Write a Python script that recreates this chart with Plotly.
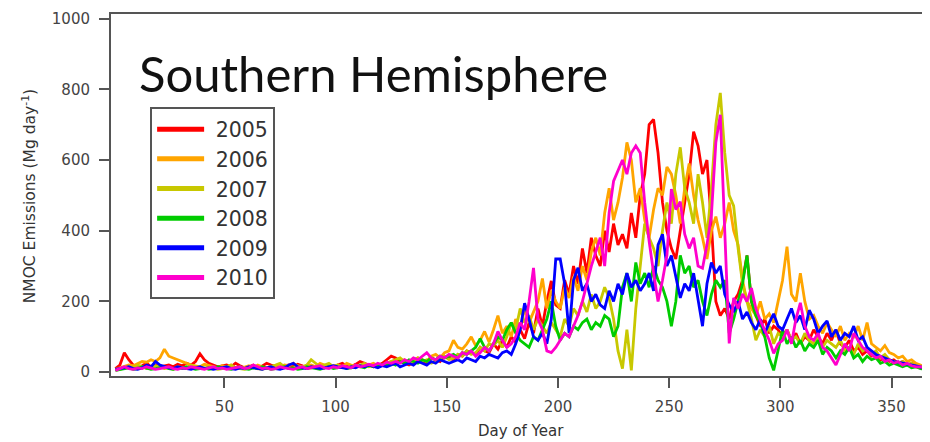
import plotly.graph_objects as go

DAYS = list(range(1, 366, 2))

YEARS = ["2005", "2006", "2007", "2008", "2009", "2010"]

Y2005 = [10,20,55,35,20,15,18,25,15,20, 15,18,20,15,22,18,25,20,30,52,
         35,25,20,15,18,20,15,25,18,12, 15,20,10,18,25,20,15,12,18,20,
         15,22,18,10,12,15,20,12,18,15,
         20,25,18,15,22,30,25,20,15,18,25,35,45,40,30,25,20,28,35,30,25,40,35,30,45,
         40,35,50,45,60,55,50,70,60,55,80,65,90,70,100,85,120,95,140,110,180,130,200,258,190,
         180,260,220,300,250,350,280,380,330,300,400,340,420,360,390,350,450,380,500,560,700,715,620,480,400,
         350,320,400,480,560,680,640,560,600,420,200,160,180,150,200,220,260,330,200,160,130,150,110,130,120,
         100,120,90,110,80,100,90,120,100,80,110,90,120,80,70,90,60,70,50,60,45,50,35,40,30,35,25,30,20,25,18,15,12]

Y2006 = [8,12,15,20,18,25,30,28,35,30, 40,65,45,40,35,30,25,20,18,15,
         22,18,15,12,18,15,20,12,10,15, 18,12,20,15,10,12,18,15,20,18,
         25,15,12,18,20,15,25,20,15,18,
         20,15,25,20,18,15,22,20,25,18,20,25,30,22,28,35,25,30,40,35,30,45,50,40,55,
         60,90,70,65,80,100,75,90,115,85,120,160,110,130,100,150,120,180,140,170,200,265,180,230,200,
         180,240,210,270,230,300,260,340,380,330,450,520,430,480,550,650,600,480,520,430,380,460,520,500,580,
         560,500,420,520,590,500,430,380,320,400,440,380,420,480,400,360,260,200,180,160,200,150,165,140,200,
         260,355,220,200,280,200,150,160,130,110,140,120,100,130,90,110,100,130,90,140,80,70,60,75,55,50,40,45,30,35,25,20,15]

Y2007 = [5,8,10,15,12,20,15,10,12,18, 15,10,12,8,15,12,10,20,15,12,
         10,15,12,8,10,15,20,12,10,8, 12,15,10,8,12,15,20,25,15,10,
         12,18,15,20,35,25,15,20,25,15,
         20,15,12,18,15,20,25,15,18,22,20,25,30,35,40,30,25,35,40,30,35,25,30,40,45,
         35,40,50,45,60,50,55,70,60,80,75,90,70,100,140,120,180,140,160,120,150,130,110,140,120,
         100,150,130,180,160,200,170,220,180,200,240,210,150,60,10,120,5,180,300,420,380,350,300,400,480,
         420,560,636,520,480,420,560,480,380,520,700,790,620,500,470,350,250,200,150,90,120,100,130,80,110,
         100,120,90,100,80,110,90,80,100,70,90,80,70,90,60,70,50,80,60,70,50,60,40,50,35,30,25,30,20,25,15,12,10]

Y2008 = [5,8,10,12,8,10,15,12,8,10, 12,15,10,8,12,10,15,12,8,10,
         12,8,10,15,12,10,8,12,15,10, 8,12,10,15,12,8,10,12,15,10,
         12,8,10,15,12,10,8,12,15,10,
         12,15,10,12,18,15,12,20,15,18,22,18,25,20,30,25,35,30,25,35,30,40,35,45,40,
         45,50,40,55,50,60,70,95,70,60,80,100,90,120,140,110,90,80,70,100,90,120,150,200,130,
         90,110,100,130,120,140,150,120,140,130,160,150,100,130,240,280,200,310,250,280,240,300,260,240,200,
         130,200,330,280,300,240,260,200,160,220,260,240,260,110,150,200,250,330,200,160,140,100,40,5,60,
         120,80,100,70,90,60,80,70,90,50,70,60,40,60,50,70,40,50,30,45,35,40,25,30,20,25,20,15,20,12,15,10,8]

Y2009 = [8,10,12,15,10,8,12,20,15,30, 20,15,12,10,15,12,10,8,12,15,
         10,12,8,10,12,15,10,8,12,10, 15,12,10,8,12,15,10,8,12,20,
         25,15,12,10,15,12,10,12,15,18,
         15,12,10,15,12,18,15,20,15,12,18,15,20,25,15,20,25,20,30,25,20,30,25,35,30,
         25,30,35,28,40,35,30,45,40,50,45,40,55,60,50,80,120,195,150,100,90,110,80,150,320,
         320,250,110,260,295,230,250,200,220,190,180,230,200,250,220,280,240,260,230,250,280,230,360,390,300,
         330,270,210,250,230,280,200,130,250,310,280,300,220,190,170,200,150,170,140,120,150,110,140,165,130,
         120,150,180,140,160,120,175,150,110,130,145,100,120,90,110,100,130,90,100,70,60,50,45,40,35,30,28,25,22,20,18,15,12]

Y2010 = [5,10,15,10,8,12,10,15,12,8, 10,12,15,10,8,12,10,15,12,10,
         8,12,15,10,12,8,10,12,15,10, 12,20,15,10,12,8,10,15,12,10,
         8,12,15,10,12,15,18,12,10,15,
         12,18,15,12,20,15,18,22,18,25,20,28,25,30,25,35,30,40,35,45,55,40,35,45,40,
         50,45,40,55,50,60,45,55,70,60,80,115,90,70,80,100,140,120,200,295,150,120,60,55,70,
         90,110,100,130,160,200,250,300,340,380,300,450,540,570,600,560,620,640,620,480,370,280,200,260,330,
         518,460,482,390,350,380,300,294,360,445,650,728,400,81,210,180,221,200,238,180,146,120,90,53,80,
         90,120,80,150,196,130,100,90,110,70,60,40,20,50,80,60,110,90,70,60,50,40,45,30,35,25,30,20,25,18,15,15,12]

SERIES = [Y2005, Y2006, Y2007, Y2008, Y2009, Y2010]
COLORS = ["#ff0000", "#ffa500", "#c8c800", "#00cc00", "#0000ff", "#ff00cc"]

X_TICKS = [50, 100, 150, 200, 250, 300, 350]
Y_TICKS = [0, 200, 400, 600, 800, 1000]

fig = go.Figure()
for name, vals, col in zip(YEARS, SERIES, COLORS):
    fig.add_trace(go.Scatter(x=DAYS, y=vals, mode="lines", name=name,
                             legendgroup=name, showlegend=False,
                             line=dict(color=col, width=2.8)))
# legend-only entries (thicker sample lines, as in the reference)
for name, col in zip(YEARS, COLORS):
    fig.add_trace(go.Scatter(x=[None], y=[None], mode="lines", name=" " + name,
                             legendgroup=name, showlegend=True,
                             line=dict(color=col, width=5)))

FONT = "DejaVu Sans, Liberation Sans, Arial, sans-serif"
axis_font = dict(family=FONT, size=15, color="#444444")

fig.update_layout(
    width=922, height=434,
    margin=dict(l=103, r=4, t=2, b=66),
    paper_bgcolor="white", plot_bgcolor="white",
    showlegend=True,
    legend=dict(x=0.048, y=0.742, xanchor="left", yanchor="top",
                bgcolor="white", bordercolor="#555555", borderwidth=2,
                itemwidth=47,
                font=dict(family=FONT, size=20.5, color="#333333"),
                traceorder="grouped", tracegroupgap=0),
    xaxis=dict(range=[-1, 365.5], tickvals=X_TICKS, ticks="outside", ticklen=10,
               tickwidth=1.5, tickcolor="#555555", showgrid=False, zeroline=False,
               showline=True, linecolor="#555555", linewidth=2, mirror=True,
               ticklabelstandoff=6, ticklabeloverflow="allow", tickfont=axis_font),
    yaxis=dict(range=[-11, 1013], tickvals=Y_TICKS, ticks="outside", ticklen=10,
               tickwidth=1.5, tickcolor="#555555", showgrid=False, zeroline=False,
               showline=True, linecolor="#555555", linewidth=2, mirror=True,
               ticklabelstandoff=6, ticklabeloverflow="allow", tickfont=axis_font),
    annotations=[
        dict(text="Southern Hemisphere", xref="paper", yref="paper", x=0.032, y=0.836,
             xanchor="left", yanchor="middle", showarrow=False,
             font=dict(family="Lato, sans-serif", size=49, color="#111111")),
        dict(text="Day of Year", xref="paper", yref="paper", x=0.503, y=-0.153,
             xanchor="center", yanchor="middle", showarrow=False,
             font=dict(family=FONT, size=15, color="#333333")),
        dict(text="NMOC Emissions (Mg day<sup>-1</sup>)", xref="paper", yref="paper",
             x=-0.1, y=0.495, xanchor="center", yanchor="middle", textangle=-90,
             showarrow=False,
             font=dict(family=FONT, size=15.5, color="#333333")),
    ],
)

fig.write_html("out.html")
